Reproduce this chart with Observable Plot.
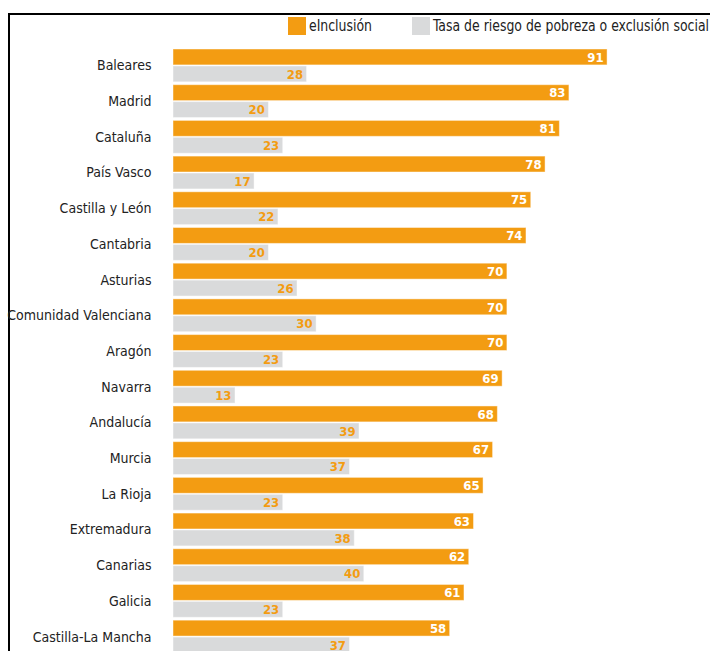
<!DOCTYPE html>
<html>
<head>
<meta charset="utf-8">
<script src="https://cdn.jsdelivr.net/npm/d3@7"></script>
<script src="https://cdn.jsdelivr.net/npm/@observablehq/plot@0.6"></script>
<style>
  html, body { margin: 0; padding: 0; background: #fff; width: 710px; height: 651px; overflow: hidden; }
  body { position: relative; font-family: "Liberation Sans Narrow", "Arial Narrow", "DejaVu Sans Condensed", sans-serif; }
  #frame { position: absolute; left: 8px; top: 13px; width: 760px; height: 760px; border-top: 2.5px solid #000; border-left: 2.5px solid #000; box-sizing: border-box; }
  #chart { position: absolute; left: 0; top: 0; }
  .sw { position: absolute; width: 18px; height: 18px; top: 17px; }
  .lt { position: absolute; top: 16px; font-size: 15px; line-height: 20px; color: #222; white-space: nowrap; transform-origin: 0 50%; }
</style>
</head>
<body>
<div id="frame"></div>
<div id="chart"></div>
<div id="legend"></div>
<script>
const regions = ["Baleares", "Madrid", "Cataluña", "País Vasco", "Castilla y León", "Cantabria", "Asturias", "Comunidad Valenciana", "Aragón", "Navarra", "Andalucía", "Murcia", "La Rioja", "Extremadura", "Canarias", "Galicia", "Castilla-La Mancha"];
const eInclusion = [91, 83, 81, 78, 75, 74, 70, 70, 70, 69, 68, 67, 65, 63, 62, 61, 58];
const tasaRiesgo = [28, 20, 23, 17, 22, 20, 26, 30, 23, 13, 39, 37, 23, 38, 40, 23, 37];
const seriesNames = ["eInclusión", "Tasa de riesgo de pobreza o exclusión social"];

const ORANGE = "#f39c12";
const GRAY = "#d9dadb";

const rowsA = regions.map((r, i) => ({region: r, series: seriesNames[0], value: eInclusion[i]}));
const rowsB = regions.map((r, i) => ({region: r, series: seriesNames[1], value: tasaRiesgo[i]}));

const font = '"Liberation Sans Narrow", "Arial Narrow", "DejaVu Sans Condensed", sans-serif';

const chart = Plot.plot({
  width: 700,
  height: 660,
  marginLeft: 173,
  marginRight: 50,
  marginTop: 49,
  marginBottom: 7,
  style: {fontFamily: font, fontSize: "14px", color: "#222", background: "transparent"},
  x: {domain: [0, 100], axis: null},
  y: {domain: seriesNames, axis: null, paddingInner: 0.06, paddingOuter: 0, round: false},
  fy: {domain: regions, paddingInner: 0.08, paddingOuter: 0, round: false, axis: "left", tickSize: 0, tickPadding: 22, label: null},
  marks: [
    Plot.barX(rowsA, {x: "value", y: "series", fy: "region", fill: ORANGE, stroke: "#fff", strokeOpacity: 0.45, strokeWidth: 1}),
    Plot.barX(rowsB, {x: "value", y: "series", fy: "region", fill: GRAY, stroke: "#fff", strokeOpacity: 0.45, strokeWidth: 1}),
    Plot.text(rowsA, {x: "value", y: "series", fy: "region", text: d => String(d.value), textAnchor: "end", dx: -4, fill: "#fff", fontWeight: "bold", fontSize: 13}),
    Plot.text(rowsB, {x: "value", y: "series", fy: "region", text: d => String(d.value), textAnchor: "end", dx: -4, fill: ORANGE, fontWeight: "bold", fontSize: 13})
  ]
});
document.getElementById("chart").appendChild(chart);

// Legend: swatch + label, label squeezed horizontally to the reference width
const legend = document.getElementById("legend");
const legendItems = [
  {name: seriesNames[0], color: ORANGE, swatchX: 288, textX: 309, textW: 63},
  {name: seriesNames[1], color: GRAY, swatchX: 412, textX: 433, textW: 276}
];
legendItems.forEach(it => {
  const sw = document.createElement("div");
  sw.className = "sw";
  sw.style.left = it.swatchX + "px";
  sw.style.background = it.color;
  legend.appendChild(sw);
  const t = document.createElement("div");
  t.className = "lt";
  t.style.left = it.textX + "px";
  t.textContent = it.name;
  legend.appendChild(t);
  const w = t.getBoundingClientRect().width;
  if (w > 0) t.style.transform = `scaleX(${it.textW / w})`;
});
</script>
</body>
</html>
